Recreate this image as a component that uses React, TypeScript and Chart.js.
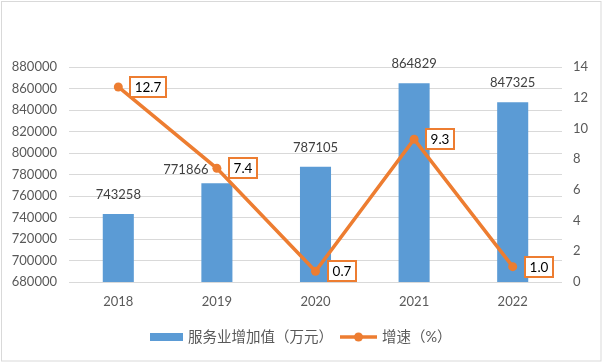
import React, { useEffect, useRef } from "react";
import { Chart, registerables } from "chart.js";

Chart.register(...registerables);

const categories = ["2018", "2019", "2020", "2021", "2022"];
const valueAdded = [743258, 771866, 787105, 864829, 847325];
const growthRate = [12.7, 7.4, 0.7, 9.3, 1.0];
const barLabel = "服务业增加值（万元）";
const lineLabel = "增速（%）";

const BLUE = "#5B9BD5";
const ORANGE = "#ED7D31";
const GRID = "#D9D9D9";
const TEXT = "#595959";
const FONT = "Lato, 'Noto Sans CJK SC', sans-serif";

const decorPlugin = {
  id: "decor",
  beforeDraw(chart: any) {
    const ctx = chart.ctx;
    ctx.save();
    ctx.fillStyle = "#ffffff";
    ctx.fillRect(0, 0, chart.width, chart.height);
    ctx.strokeStyle = GRID;
    ctx.lineWidth = 1;
    ctx.strokeRect(1.5, 1.5, chart.width - 2.5, chart.height - 2.5);
    ctx.restore();
  },
  afterDatasetsDraw(chart: any) {
    const ctx = chart.ctx;
    ctx.save();
    // bar labels
    const barMeta = chart.getDatasetMeta(1);
    const offsets = [[0, 0], [-31, 6], [0, 0], [0, 0], [0, 0]];
    ctx.font = `13px ${FONT}`;
    ctx.fillStyle = "#404040";
    ctx.textAlign = "center";
    ctx.textBaseline = "middle";
    barMeta.data.forEach((el: any, i: number) => {
      const o = offsets[i] || [0, 0];
      ctx.fillText(String(valueAdded[i]), el.x + o[0], el.y - 19 + o[1]);
    });
    // line labels
    const lineMeta = chart.getDatasetMeta(0);
    ctx.font = `13.5px ${FONT}`;
    lineMeta.data.forEach((el: any, i: number) => {
      const txt = growthRate[i].toFixed(1);
      const tw = ctx.measureText(txt).width;
      const w = Math.round(tw + 11);
      const h = 22;
      const x = Math.round(el.x + 11);
      const y = Math.round(el.y - h / 2);
      ctx.fillStyle = "#ffffff";
      ctx.fillRect(x, y, w, h);
      ctx.strokeStyle = ORANGE;
      ctx.lineWidth = 2;
      ctx.strokeRect(x + 1, y + 1, w - 2, h - 2);
      ctx.fillStyle = "#000000";
      ctx.textAlign = "center";
      ctx.textBaseline = "middle";
      ctx.fillText(txt, x + w / 2, y + h / 2 + 1);
    });
    ctx.restore();
  },
  afterDraw(chart: any) {
    const ctx = chart.ctx;
    ctx.save();
    const cy = 337;
    ctx.fillStyle = BLUE;
    ctx.fillRect(150, cy - 4, 33, 8);
    ctx.font = `14.5px ${FONT}`;
    ctx.fillStyle = TEXT;
    ctx.textAlign = "left";
    ctx.textBaseline = "middle";
    ctx.fillText(barLabel, 188, cy);
    ctx.strokeStyle = ORANGE;
    ctx.lineWidth = 3.5;
    ctx.beginPath();
    ctx.moveTo(340, cy);
    ctx.lineTo(377, cy);
    ctx.stroke();
    ctx.fillStyle = ORANGE;
    ctx.beginPath();
    ctx.arc(358.5, cy, 4.5, 0, Math.PI * 2);
    ctx.fill();
    ctx.fillStyle = TEXT;
    ctx.fillText(lineLabel, 382, cy);
    ctx.restore();
  },
};

export default function App() {
  const ref = useRef<HTMLCanvasElement>(null);
  useEffect(() => {
    document.body.style.margin = "0";
    const chart = new Chart(ref.current!, {
      type: "bar",
      data: {
        labels: categories,
        datasets: [
          {
            type: "line",
            label: lineLabel,
            data: growthRate,
            yAxisID: "y1",
            borderColor: ORANGE,
            backgroundColor: ORANGE,
            borderWidth: 3.5,
            pointRadius: 4.5,
            pointBackgroundColor: ORANGE,
            pointBorderWidth: 0,
            tension: 0,
            order: 0,
          } as any,
          {
            type: "bar",
            label: barLabel,
            data: valueAdded,
            yAxisID: "y",
            backgroundColor: BLUE,
            barPercentage: 0.315,
            categoryPercentage: 1,
            order: 1,
          },
        ],
      },
      options: {
        responsive: false,
        animation: false,
        layout: { padding: { top: 67, bottom: 50, left: 0, right: 0 } },
        plugins: {
          legend: { display: false },
          tooltip: { enabled: false },
        },
        scales: {
          x: {
            grid: { display: false, drawTicks: false },
            border: { display: false },
            ticks: { color: TEXT, font: { family: FONT, size: 13 }, padding: 12 },
            afterFit: (s: any) => {
              s.height = 30;
            },
          },
          y: {
            position: "left",
            min: 680000,
            max: 880000,
            grid: { color: GRID, lineWidth: 1, drawTicks: false },
            border: { display: false },
            ticks: {
              stepSize: 20000,
              color: TEXT,
              font: { family: FONT, size: 13 },
              padding: 12,
              callback: (v: any) => String(v),
            },
            afterFit: (s: any) => {
              s.width = 69;
            },
          },
          y1: {
            position: "right",
            min: 0,
            max: 14,
            grid: { display: false, drawTicks: false },
            border: { display: false },
            ticks: {
              stepSize: 2,
              color: TEXT,
              font: { family: FONT, size: 13 },
              padding: 11,
              callback: (v: any) => String(v),
            },
            afterFit: (s: any) => {
              s.width = 40;
            },
          },
        },
      },
      plugins: [decorPlugin],
    });
    return () => chart.destroy();
  }, []);
  return <canvas ref={ref} width={602} height={362} style={{ display: "block" }} />;
}
